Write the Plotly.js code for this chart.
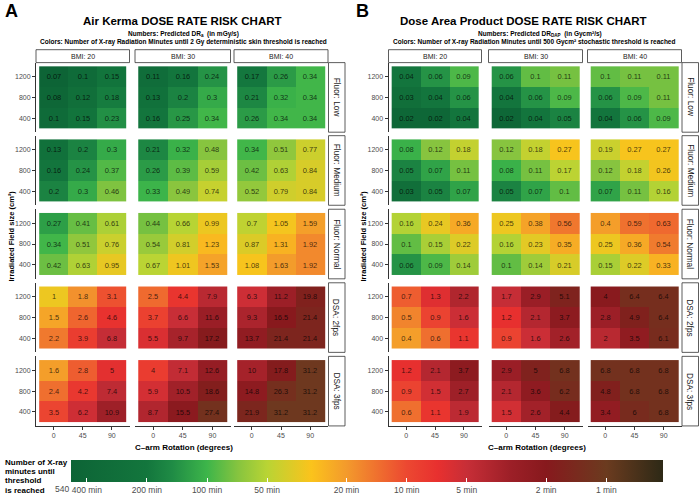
<!DOCTYPE html>
<html><head><meta charset="utf-8">
<script src="https://cdn.plot.ly/plotly-3.0.1.min.js"></script>
<style>html,body{margin:0;padding:0;background:#fff}#chart{width:700px;height:499px}</style>
</head><body><div id="chart"></div>
<script>
// ---------- DATA ----------
const rotations = ['0', '45', '90'];
const fieldSizesBottomUp = ['400', '800', '1200'];
const bmiLabels = ['BMI: 20', 'BMI: 30', 'BMI: 40'];
const fluorLabels = ['Fluor: Low', 'Fluor: Medium', 'Fluor: Normal', 'DSA: 2fps', 'DSA: 3fps'];

// Air Kerma predicted dose rate (mGy/s); each BMI matrix rows = field 1200, 800, 400; cols = 0, 45, 90 deg
const akLow = [
  [[0.07, 0.1, 0.15], [0.08, 0.12, 0.18], [0.1, 0.15, 0.23]],
  [[0.11, 0.16, 0.24], [0.13, 0.2, 0.3], [0.16, 0.25, 0.34]],
  [[0.17, 0.26, 0.34], [0.21, 0.32, 0.34], [0.26, 0.34, 0.34]]
];
const akMedium = [
  [[0.13, 0.2, 0.3], [0.16, 0.24, 0.37], [0.2, 0.3, 0.46]],
  [[0.21, 0.32, 0.48], [0.26, 0.39, 0.59], [0.33, 0.49, 0.74]],
  [[0.34, 0.51, 0.77], [0.42, 0.63, 0.84], [0.52, 0.79, 0.84]]
];
const akNormal = [
  [[0.27, 0.41, 0.61], [0.34, 0.51, 0.76], [0.42, 0.63, 0.95]],
  [[0.44, 0.66, 0.99], [0.54, 0.81, 1.23], [0.67, 1.01, 1.53]],
  [[0.7, 1.05, 1.59], [0.87, 1.31, 1.92], [1.08, 1.63, 1.92]]
];
const akDsa2 = [
  [[1, 1.8, 3.1], [1.5, 2.6, 4.6], [2.2, 3.9, 6.8]],
  [[2.5, 4.4, 7.9], [3.7, 6.6, 11.6], [5.5, 9.7, 17.2]],
  [[6.3, 11.2, 19.8], [9.3, 16.5, 21.4], [13.7, 21.4, 21.4]]
];
const akDsa3 = [
  [[1.6, 2.8, 5], [2.4, 4.2, 7.4], [3.5, 6.2, 10.9]],
  [[4, 7.1, 12.6], [5.9, 10.5, 18.6], [8.7, 15.5, 27.4]],
  [[10, 17.8, 31.2], [14.8, 26.3, 31.2], [21.9, 31.2, 31.2]]
];

// Dose Area Product predicted dose rate (Gycm2/s)
const dapLow = [
  [[0.04, 0.06, 0.09], [0.03, 0.04, 0.06], [0.02, 0.02, 0.04]],
  [[0.06, 0.1, 0.11], [0.04, 0.06, 0.09], [0.02, 0.04, 0.05]],
  [[0.1, 0.11, 0.11], [0.06, 0.09, 0.11], [0.04, 0.06, 0.09]]
];
const dapMedium = [
  [[0.08, 0.12, 0.18], [0.05, 0.07, 0.11], [0.03, 0.05, 0.07]],
  [[0.12, 0.18, 0.27], [0.08, 0.11, 0.17], [0.05, 0.07, 0.1]],
  [[0.19, 0.27, 0.27], [0.12, 0.18, 0.26], [0.07, 0.11, 0.16]]
];
const dapNormal = [
  [[0.16, 0.24, 0.36], [0.1, 0.15, 0.22], [0.06, 0.09, 0.14]],
  [[0.25, 0.38, 0.56], [0.16, 0.23, 0.35], [0.1, 0.14, 0.21]],
  [[0.4, 0.59, 0.63], [0.25, 0.36, 0.54], [0.15, 0.22, 0.33]]
];
const dapDsa2 = [
  [[0.7, 1.3, 2.2], [0.5, 0.9, 1.6], [0.4, 0.6, 1.1]],
  [[1.7, 2.9, 5.1], [1.2, 2.1, 3.7], [0.9, 1.6, 2.6]],
  [[4, 6.4, 6.4], [2.8, 4.9, 6.4], [2, 3.5, 6.1]]
];
const dapDsa3 = [
  [[1.2, 2.1, 3.7], [0.9, 1.5, 2.7], [0.6, 1.1, 1.9]],
  [[2.9, 5, 6.8], [2.1, 3.6, 6.2], [1.5, 2.6, 4.4]],
  [[6.8, 6.8, 6.8], [4.8, 6.8, 6.8], [3.4, 6, 6.8]]
];

const akThreshold = 2000;   // 2 Gy in mGy
const dapThreshold = 500;   // 500 Gycm2

const cbTickMinutes = [400, 200, 100, 50, 20, 10, 5, 2, 1];
const cbTickText = ['400 min', '200 min', '100 min', '50 min', '20 min', '10 min', '5 min', '2 min', '1 min'];
const cbLimitLabel = '540';
const cbRangeMinutes = [480, 0.52];
const csMinutes = [480, 200, 150, 100, 70, 50, 30, 20, 10, 7, 5, 3, 2, 1, 0.52];
const csColors = ['#0d6436', '#13763d', '#1f8b45', '#3db54a', '#86c43f', '#b9d434', '#fbc31c', '#f39a2c', '#ec4831', '#e8302f', '#c72e37', '#9c1f27', '#87191d', '#6b3b1f', '#2d2916'];

// ---------- BUILD ----------
const W = 700, H = 499;
const FONT = '"Liberation Sans", Arial, sans-serif';
const fx = p => p / W;
const fy = p => 1 - p / H;

const zmin = -Math.log10(cbRangeMinutes[0]);
const zmax = -Math.log10(cbRangeMinutes[1]);
const colorscale = csMinutes.map((m, i) => [(-Math.log10(m) - zmin) / (zmax - zmin), csColors[i]]);
colorscale[0][0] = 0; colorscale[colorscale.length - 1][0] = 1;

const charts = [
  { data: [akLow, akMedium, akNormal, akDsa2, akDsa3], thr: akThreshold,
    cols: [[36, 129.5], [135, 230.5], [234, 328]], rstrip: [328.5, 345] },
  { data: [dapLow, dapMedium, dapNormal, dapDsa2, dapDsa3], thr: dapThreshold,
    cols: [[388.5, 481.5], [488.5, 582.5], [587.5, 681.5]], rstrip: [682, 698.5] }
];
const rows = [[63, 133], [136.5, 206.5], [210.5, 280.5], [284.5, 354.5], [358.5, 428.5]];
const cbLeft = 71, cbRight = 663;

const traces = [];
const layout = {
  width: W, height: H, margin: { l: 0, r: 0, t: 0, b: 0 },
  paper_bgcolor: '#fff', plot_bgcolor: 'rgba(0,0,0,0)',
  font: { family: FONT, color: '#1a1a1a' },
  showlegend: false,
  coloraxis: {
    colorscale: colorscale, cmin: zmin, cmax: zmax,
    colorbar: {
      orientation: 'h', x: fx((cbLeft + cbRight) / 2), xanchor: 'center', y: fy(463), yanchor: 'top',
      len: cbRight - cbLeft, lenmode: 'pixels', thickness: 22, thicknessmode: 'pixels',
      outlinewidth: 0, xpad: 0, ypad: 0,
      tickmode: 'array', tickvals: cbTickMinutes.map(m => -Math.log10(m)), ticktext: cbTickText,
      ticks: 'inside', ticklen: 4, tickcolor: '#ffffff', tickwidth: 1,
      tickfont: { size: 8.5, color: '#4d4d4d', family: FONT }
    }
  },
  shapes: [], annotations: []
};

function ann(x, y, text, size, opts) {
  layout.annotations.push(Object.assign({ xref: 'paper', yref: 'paper', showarrow: false,
    x: fx(x), y: fy(y), text: text, xanchor: 'center', yanchor: 'middle',
    font: { size: size, color: '#000', family: FONT } }, opts || {}));
}

let idx = 0;
charts.forEach((ch, c) => {
  ch.data.forEach((mode, r) => {
    mode.forEach((mat, k) => {
      idx++;
      const s = idx === 1 ? '' : String(idx);
      const zRows = mat.slice().reverse();
      traces.push({
        type: 'heatmap', xaxis: 'x' + s, yaxis: 'y' + s,
        x: rotations, y: fieldSizesBottomUp,
        z: zRows.map(row => row.map(v => -Math.log10(ch.thr / (v * 60)))),
        text: zRows.map(row => row.map(v => String(v))),
        texttemplate: '%{text}',
        textfont: { size: 7.5, color: 'rgba(0,0,0,0.72)', family: FONT },
        coloraxis: 'coloraxis', hoverinfo: 'skip', xgap: 0, ygap: 0
      });
      const bottom = r === 4, left = k === 0;
      layout['xaxis' + s] = {
        domain: [fx(ch.cols[k][0]), fx(ch.cols[k][1])], anchor: 'y' + s,
        type: 'category', range: [-0.61, 2.61], fixedrange: true,
        showgrid: false, zeroline: false,
        showline: bottom, linecolor: '#333', linewidth: 1,
        ticks: bottom ? 'outside' : '', ticklen: 3, tickcolor: '#333',
        showticklabels: bottom, tickfont: { size: 7, color: '#4d4d4d', family: FONT }
      };
      layout['yaxis' + s] = {
        domain: [fy(rows[r][1]), fy(rows[r][0])], anchor: 'x' + s,
        type: 'category', range: [-0.68, 2.68], fixedrange: true,
        showgrid: false, zeroline: false,
        showline: left, linecolor: '#333', linewidth: 1,
        ticks: left ? 'outside' : '', ticklen: 3, tickcolor: '#333',
        showticklabels: left, tickfont: { size: 7, color: '#4d4d4d', family: FONT }
      };
    });
    // right strip
    layout.shapes.push({ type: 'rect', xref: 'paper', yref: 'paper',
      x0: fx(ch.rstrip[0]), x1: fx(ch.rstrip[1]), y0: fy(rows[r][1]), y1: fy(rows[r][0]),
      fillcolor: '#fff', line: { color: '#333', width: 0.8 } });
    ann((ch.rstrip[0] + ch.rstrip[1]) / 2, (rows[r][0] + rows[r][1]) / 2, fluorLabels[r], 8.3,
      { textangle: 90, font: { size: 8.3, color: '#1a1a1a', family: FONT } });
  });
  // top strips
  ch.cols.forEach((col, k) => {
    layout.shapes.push({ type: 'rect', xref: 'paper', yref: 'paper',
      x0: fx(col[0]), x1: fx(col[1]), y0: fy(63), y1: fy(50),
      fillcolor: '#fff', line: { color: '#333', width: 0.8 } });
    ann((col[0] + col[1]) / 2, 56.5, bmiLabels[k], 7, { font: { size: 7, color: '#1a1a1a', family: FONT } });
  });
});

ann(4, 0, '<b>A</b>', 18, { xanchor: 'left', yanchor: 'top', borderpad: 0 });
ann(355, 0, '<b>B</b>', 18, { xanchor: 'left', yanchor: 'top', borderpad: 0 });
ann(182, 21, '<b>Air Kerma DOSE RATE RISK CHART</b>', 11.5);
ann(523, 21, '<b>Dose Area Product DOSE RATE RISK CHART</b>', 11.5);
ann(183, 34, '<b>Numbers: Predicted DR<sub>a</sub>  (in mGy/s)</b>', 6.5);
ann(540, 34, '<b>Numbers: Predicted DR<sub>DAP</sub>  (in Gycm²/s)</b>', 6.5);
ann(183, 42.7, '<b>Colors: Number of X-ray Radiation Minutes until 2 Gy deterministic skin threshold is reached</b>', 6.5);
ann(534, 42.7, '<b>Colors: Number of X-ray Radiation Minutes until 500 Gycm² stochastic threshold is reached</b>', 6.5);
ann(12, 238, '<b>Irradiated Field size (cm²)</b>', 7.5, { textangle: -90 });
ann(364, 238, '<b>Irradiated Field size (cm²)</b>', 7.5, { textangle: -90 });
ann(184, 450, '<b>C–arm Rotation (degrees)</b>', 8);
ann(537, 450, '<b>C–arm Rotation (degrees)</b>', 8);
['Number of X-ray', 'minutes until', 'threshold', 'is reached'].forEach((t, i) => {
  ann(3, 465 + i * 9.4, '<b>' + t + '</b>', 8, { xanchor: 'left' });
});
// colorbar lower-limit label (data limit of the scale)
ann(62, 492, cbLimitLabel, 8.5, { font: { size: 8.5, color: '#4d4d4d', family: FONT } });

Plotly.newPlot('chart', traces, layout, { staticPlot: true, displayModeBar: false });
</script></body></html>
